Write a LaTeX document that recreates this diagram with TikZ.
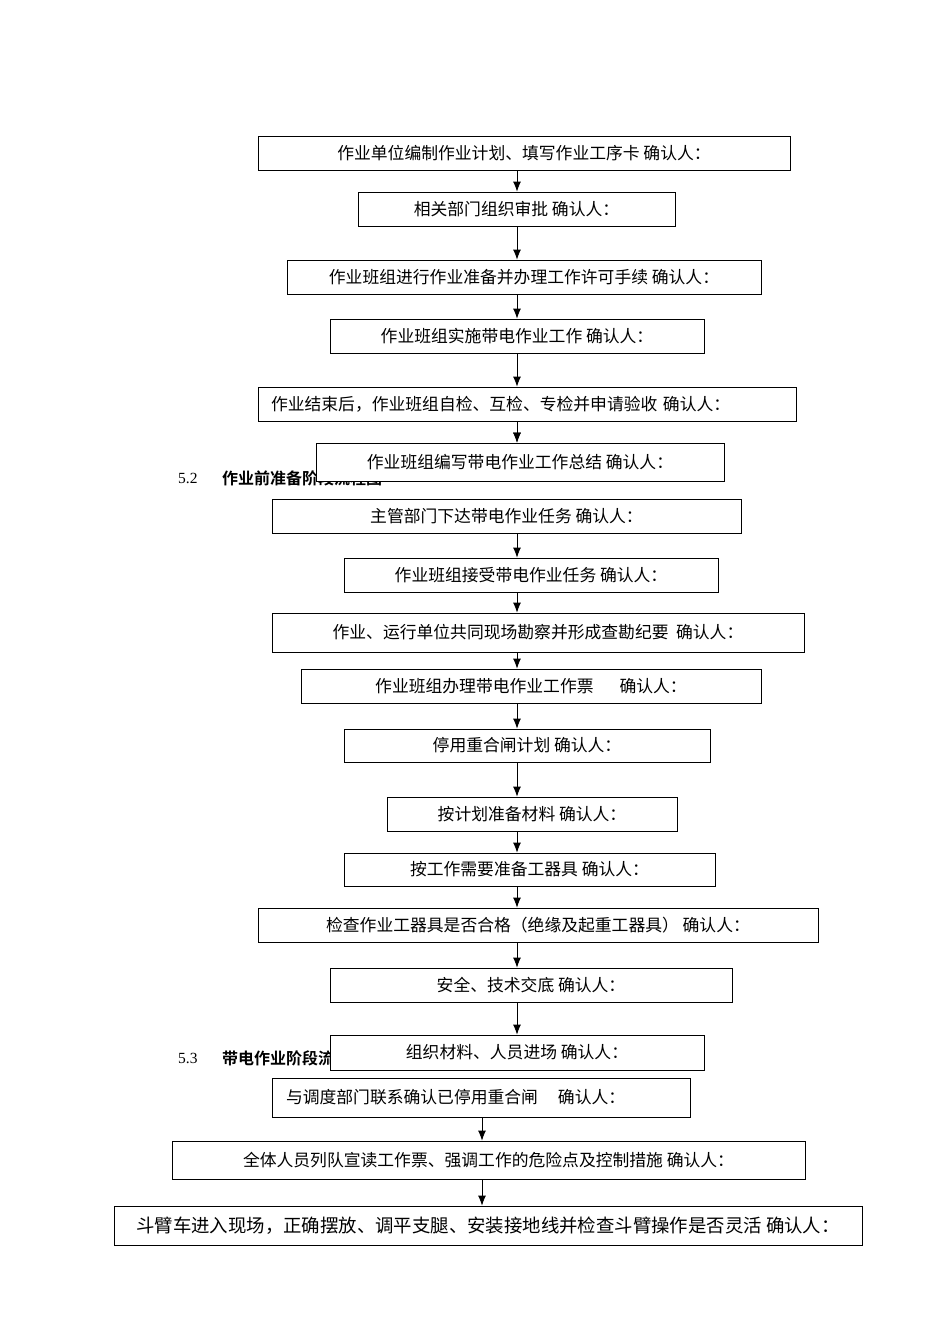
\documentclass[tikz,border=0pt]{standalone}
\usepackage{fontspec}
\setmainfont{Liberation Serif}
\newfontfamily\cjk{Noto Sans CJK SC}
\newfontfamily\cjkb{Noto Sans CJK SC Bold}
\begin{document}
\begin{tikzpicture}[x=1pt,y=-1pt,
  box/.style={draw,fill=white,line width=0.8pt,inner sep=0pt,font=\cjk\fontsize{16.8}{19}\selectfont},
  arr/.style={-{Latex[length=10pt,width=8pt]},line width=0.8pt},
  sec/.style={anchor=west,inner sep=0pt}]
\usetikzlibrary{arrows.meta}
\useasboundingbox[fill=white] (0,0) rectangle (950,1344);
\node[sec,font=\fontsize{15.5}{17}\selectfont] (s2) at (178,478) {5.2};
\node[sec,font=\cjkb\fontsize{16}{18}\selectfont] (h2) at (222,478) {作业前准备阶段流程图};
\node[sec,font=\fontsize{15.5}{17}\selectfont] (s3) at (178,1058) {5.3};
\node[sec,font=\cjkb\fontsize{16}{18}\selectfont] (h3) at (222,1058) {带电作业阶段流程图};
\coordinate (ax) at (517,0);
\coordinate (bx) at (482,0);
\node[box,minimum width=532pt,minimum height=34pt] (n1) at (524,153) {作业单位编制作业计划、填写作业工序卡\ 确认人：};
\node[box,minimum width=317pt,minimum height=34pt] (n2) at (516.5,209) {相关部门组织审批\ 确认人：};
\node[box,minimum width=474pt,minimum height=34pt] (n3) at (524,277) {作业班组进行作业准备并办理工作许可手续\ 确认人：};
\node[box,minimum width=374pt,minimum height=34pt] (n4) at (517,336) {作业班组实施带电作业工作\ 确认人：};
\node[box,minimum width=538pt,minimum height=34pt,text width=512pt,align=left] (n5) at (527,404) {作业结束后，作业班组自检、互检、专检并申请验收\ 确认人：};
\node[box,minimum width=408pt,minimum height=38pt] (n6) at (520,462) {作业班组编写带电作业工作总结\ 确认人：};
\node[box,minimum width=469pt,minimum height=34pt] (n7) at (506.5,516) {主管部门下达带电作业任务\ 确认人：};
\node[box,minimum width=374pt,minimum height=34pt] (n8) at (531,575) {作业班组接受带电作业任务\ 确认人：};
\node[box,minimum width=532pt,minimum height=39pt] (n9) at (538,632.5) {作业、运行单位共同现场勘察并形成查勘纪要\ \ 确认人：};
\node[box,minimum width=460pt,minimum height=34pt] (n10) at (531,686) {作业班组办理带电作业工作票\hspace{26pt}确认人：};
\node[box,minimum width=366pt,minimum height=33pt] (n11) at (527,745.5) {停用重合闸计划\ 确认人：};
\node[box,minimum width=290pt,minimum height=34pt] (n12) at (532,814) {按计划准备材料\ 确认人：};
\node[box,minimum width=371pt,minimum height=33pt] (n13) at (529.5,869.5) {按工作需要准备工器具\ 确认人：};
\node[box,minimum width=560pt,minimum height=34pt] (n14) at (538,925) {检查作业工器具是否合格（绝缘及起重工器具）\ 确认人：};
\node[box,minimum width=402pt,minimum height=34pt] (n15) at (531,985) {安全、技术交底\ 确认人：};
\node[box,minimum width=374pt,minimum height=35pt] (n16) at (517,1052.5) {组织材料、人员进场\ 确认人：};
\node[box,minimum width=418pt,minimum height=39pt,text width=390pt,align=left] (n17) at (481,1097.5) {与调度部门联系确认已停用重合闸\hspace{20pt}确认人：};
\node[box,minimum width=633pt,minimum height=38pt] (n18) at (488.5,1160) {全体人员列队宣读工作票、强调工作的危险点及控制措施 确认人：};
\node[box,minimum width=748pt,minimum height=39pt,font=\cjk\fontsize{18.4}{20}\selectfont] (n19) at (488,1225.5) {斗臂车进入现场，正确摆放、调平支腿、安装接地线并检查斗臂操作是否灵活 确认人：};
\foreach \a/\b in {n1/n2,n2/n3,n3/n4,n4/n5,n5/n6,n7/n8,n8/n9,n9/n10,n10/n11,n11/n12,n12/n13,n13/n14,n14/n15,n15/n16}
  \draw[arr] (\a.south -| ax) -- (\b.north -| ax);
\draw[arr] (n6.north -| ax) ++(0,-8) -- (n6.north -| ax);
\draw[arr] (n17.south -| bx) -- (n18.north -| bx);
\draw[arr] (n18.south -| bx) -- (n19.north -| bx);
\end{tikzpicture}
\end{document}
